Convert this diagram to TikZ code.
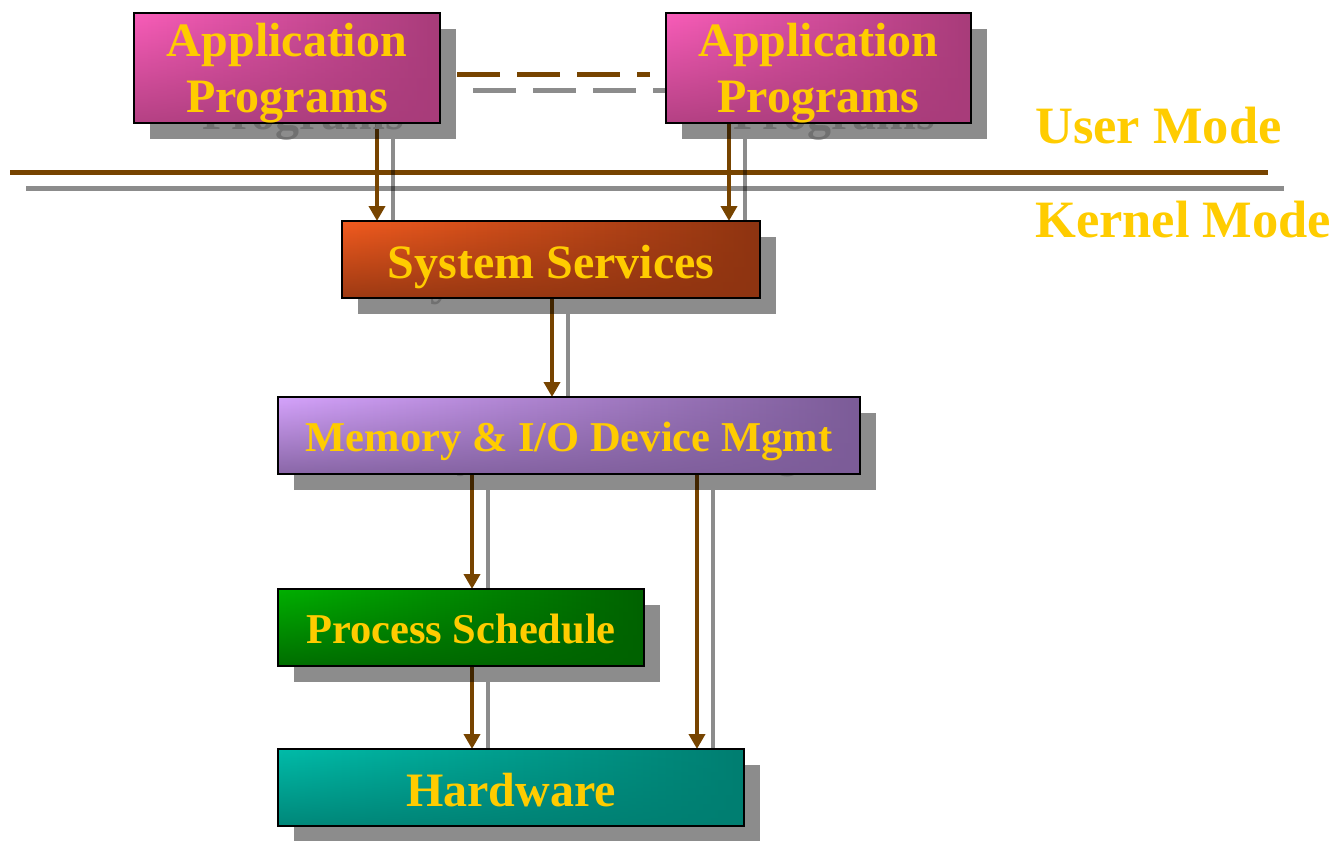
\documentclass[tikz,border=0pt]{standalone}
\usepackage{fontspec}
\setmainfont{Liberation Serif}
\usetikzlibrary{arrows.meta,calc,fadings}

\pgfdeclarelayer{back}
\pgfdeclarelayer{shade}
\pgfsetlayers{back,shade,main}

\definecolor{brn}{HTML}{774400}
\definecolor{ylw}{HTML}{FFCC00}
\definecolor{shtxt}{HTML}{707070}
\definecolor{appA}{HTML}{F95DB9}
\definecolor{appB}{HTML}{A83C7A}
\definecolor{sysA}{HTML}{F25B1F}
\definecolor{sysB}{HTML}{8E3411}
\definecolor{memA}{HTML}{D5A3FC}
\definecolor{memB}{HTML}{7C5C98}
\definecolor{procA}{HTML}{00B000}
\definecolor{procB}{HTML}{006200}
\definecolor{hwA}{HTML}{00BCA9}
\definecolor{hwB}{HTML}{007E71}

% darkening towards the lower edge of each box
\tikzfading[name=lowerdark, top color=transparent!100, middle color=transparent!80, bottom color=transparent!15]

\tikzset{
  shline/.style={draw=black, opacity=.45, line width=#1, transform canvas={shift={(16pt,-16pt)}}},
  box/.style={inner sep=0pt, outer sep=0pt, minimum height=77pt, text=ylw},
  big/.style={font=\fontsize{48}{56}\selectfont\bfseries, text height=37pt, text depth=0pt},
  mid/.style={font=\fontsize{42.5}{50}\selectfont\bfseries, text height=32pt, text depth=0pt},
  apptxt/.style={inner sep=0pt, text=ylw, font=\fontsize{48}{56}\selectfont\bfseries},
  modetxt/.style={inner sep=0pt, text=ylw, font=\fontsize{52.5}{60}\selectfont\bfseries},
  grad/.style 2 args={left color=#1, right color=#2,
    postaction={fill=#2, path fading=lowerdark},
    postaction={draw=black, line width=2.5pt}},
  shfill/.style={fill=black, opacity=.45},
  arr/.style={draw=brn, line width=4.5pt, -{Triangle[width=16pt,length=15pt]},
    preaction={shline=4.5pt}},
  hline/.style={draw=brn, line width=5pt, preaction={shline=5pt}},
  dline/.style={draw=brn, line width=5pt, dash pattern=on 43pt off 17pt,
    preaction={shline=5pt, dash pattern=on 43pt off 17pt}},
}

\begin{document}
\begin{tikzpicture}[x=1pt, y=-1pt]
\useasboundingbox (0,0) rectangle (1337,840);

% boxes
\node[box, big, minimum width=306pt, minimum height=110pt, grad={appA}{appB}] (app1) at (287,68) {};
\node[box, big, minimum width=305pt, minimum height=110pt, grad={appA}{appB}] (app2) at (818.5,68) {};
\node[apptxt, anchor=base] (app1a) at ($(app1.center)+(0,-11)$) {Application};
\node[apptxt, anchor=base] (app1b) at ($(app1.center)+(0,45)$) {Programs};
\node[apptxt, anchor=base] (app2a) at ($(app2.center)+(0,-11)$) {Application};
\node[apptxt, anchor=base] (app2b) at ($(app2.center)+(0,45)$) {Programs};

\node[box, big, minimum width=418pt, grad={sysA}{sysB}] (sys) at (551,259.5) {System Services};
\node[box, mid, minimum width=582pt, grad={memA}{memB}] (mem) at (569,435.5) {Memory \& I/O Device Mgmt};
\node[box, mid, minimum width=366pt, grad={procA}{procB}] (proc) at (461,627.5) {Process Schedule};
\node[box, big, minimum width=466pt, grad={hwA}{hwB}] (hw) at (511,787.5) {Hardware};

% mode labels
\node[modetxt, anchor=base west] (um) at (1035,143) {User Mode};
\node[modetxt, anchor=base west] (km) at (1035,237) {Kernel Mode};

% shadows of the boxes and their captions
\begin{pgfonlayer}{shade}
  \foreach \n in {app1,app2,sys,mem,proc,hw}
    \fill[shfill] ($(\n.north west)+(16,16)$) rectangle ($(\n.south east)+(16,16)$);
  \node[apptxt, text=shtxt, anchor=base] at ($(app1.center)+(16,5)$) {Application};
  \node[apptxt, text=shtxt, anchor=base] at ($(app1.center)+(16,61)$) {Programs};
  \node[apptxt, text=shtxt, anchor=base] at ($(app2.center)+(16,5)$) {Application};
  \node[apptxt, text=shtxt, anchor=base] at ($(app2.center)+(16,61)$) {Programs};
  \node[box, big, text=shtxt] at ($(sys.center)+(16,16)$) {System Services};
  \node[box, mid, text=shtxt] at ($(mem.center)+(16,16)$) {Memory \& I/O Device Mgmt};
  \node[box, mid, text=shtxt] at ($(proc.center)+(16,16)$) {Process Schedule};
  \node[box, big, text=shtxt] at ($(hw.center)+(16,16)$) {Hardware};
\end{pgfonlayer}

% mode boundary, link between applications, and the call arrows
\begin{pgfonlayer}{back}
  \coordinate (bl) at (10,172);
  \coordinate (br) at (1268,172);
  \draw[hline] (bl) -- (br);

  \coordinate (d1) at ($(app1.east)+(17,7)$);
  \coordinate (d2) at ($(app2.west)+(-16,7)$);
  \draw[dline] (d1) -- (d2);

  \coordinate (a1) at ($(app1.south)+(90,0)$);
  \coordinate (a2) at ($(app2.south)+(-89.5,0)$);
  \coordinate (s1) at ($(sys.south)+(1,0)$);
  \coordinate (m1) at ($(mem.south)+(-97,0)$);
  \coordinate (m2) at ($(mem.south)+(128,0)$);
  \coordinate (p1) at ($(proc.south)+(11,0)$);
  \draw[arr] (a1) -- (a1 |- sys.north);
  \draw[arr] (a2) -- (a2 |- sys.north);
  \draw[arr] (s1) -- (s1 |- mem.north);
  \draw[arr] (m1) -- (m1 |- proc.north);
  \draw[arr] (m2) -- (m2 |- hw.north);
  \draw[arr] (p1) -- (p1 |- hw.north);
\end{pgfonlayer}
\end{tikzpicture}
\end{document}
